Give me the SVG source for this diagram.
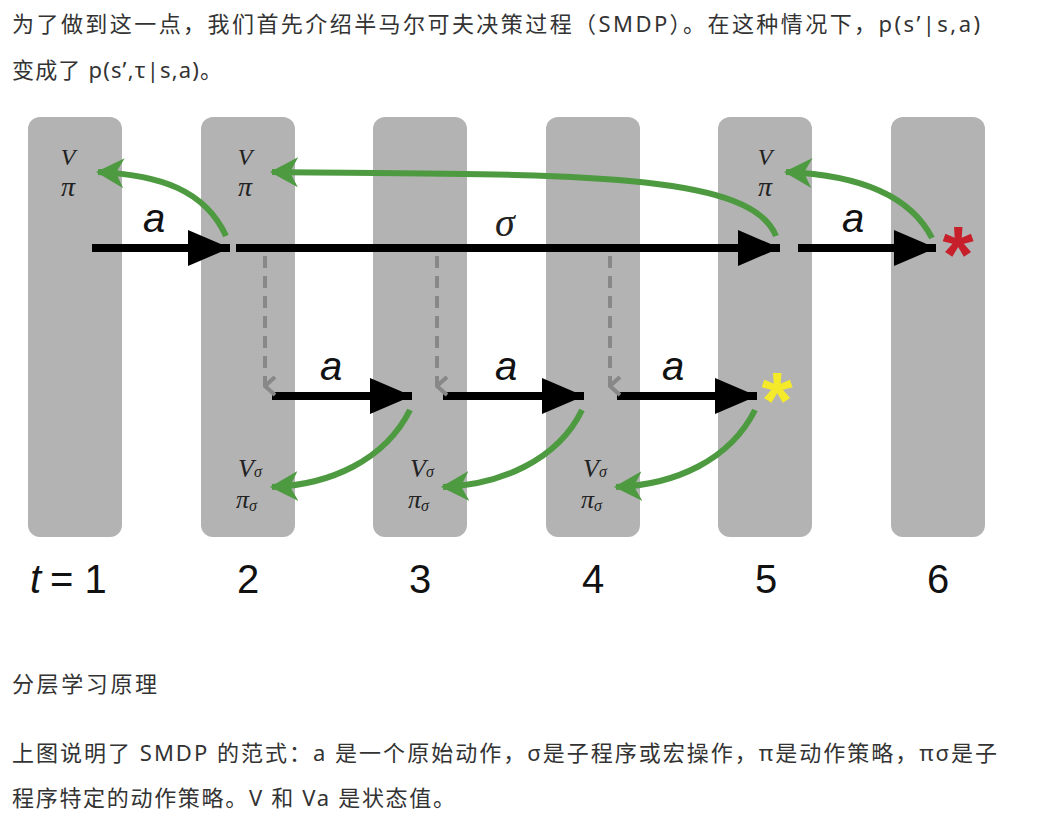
<svg xmlns="http://www.w3.org/2000/svg" width="1037" height="828" viewBox="0 0 1037 828">
<defs>
<style>
.col{fill:#b3b3b3}
.cn{font-family:"Noto Sans","Noto Sans CJK SC",sans-serif;font-size:22px;fill:#333}
.bk{stroke:#000;stroke-width:8;fill:none}
.gr{stroke:#4e9a41;stroke-width:6;fill:none}
.ds{stroke:#888;stroke-width:4;stroke-dasharray:12,8;fill:none}
.it{font-family:"Liberation Serif",serif;font-style:italic;fill:#222}
.ia{font-family:"Liberation Sans",sans-serif;font-style:italic;font-size:40px;fill:#111}
.num{font-family:"Liberation Sans",sans-serif;font-size:40px;fill:#111}
</style>
<marker id="ab" markerUnits="userSpaceOnUse" markerWidth="44" markerHeight="40" refX="42" refY="20" orient="auto"><path d="M0,2L42,20L0,38Z" fill="#000"/></marker>
<marker id="ag" markerUnits="userSpaceOnUse" markerWidth="30" markerHeight="30" refX="26" refY="15" orient="auto"><path d="M0,0L28,15L0,30L8,15Z" fill="#4e9a41"/></marker>
<marker id="ad" markerUnits="userSpaceOnUse" markerWidth="22" markerHeight="16" refX="11" refY="14" orient="auto"><path d="M2,4L11,14L20,4" stroke="#888" stroke-width="4" fill="none"/></marker>
</defs>
<rect width="1037" height="828" fill="#fff"/>
<text class="cn" x="12" y="32" textLength="968" lengthAdjust="spacing">为了做到这一点，我们首先介绍半马尔可夫决策过程（SMDP）。在这种情况下，p(s’|s,a)</text>
<text class="cn" x="12" y="78" textLength="210" lengthAdjust="spacing">变成了 p(s’,τ|s,a)。</text>
<g id="col1"><rect class="col" x="28" y="117" width="94" height="420" rx="12"/></g>
<g id="col2"><rect class="col" x="201" y="117" width="94" height="420" rx="12"/></g>
<g id="col3"><rect class="col" x="373" y="117" width="94" height="420" rx="12"/></g>
<g id="col4"><rect class="col" x="546" y="117" width="94" height="420" rx="12"/></g>
<g id="col5"><rect class="col" x="718" y="117" width="94" height="420" rx="12"/></g>
<g id="col6"><rect class="col" x="891" y="117" width="94" height="420" rx="12"/></g>
<g id="labels">
<text class="it" x="68" y="165" font-size="24" text-anchor="middle">V</text>
<text class="it" x="68" y="196" font-size="28" text-anchor="middle">π</text>
<text class="it" x="245" y="165" font-size="24" text-anchor="middle">V</text>
<text class="it" x="245" y="196" font-size="28" text-anchor="middle">π</text>
<text class="it" x="765" y="165" font-size="24" text-anchor="middle">V</text>
<text class="it" x="765" y="196" font-size="28" text-anchor="middle">π</text>
<text class="ia" x="143" y="232">a</text>
<text class="it" x="495" y="236" font-size="40">σ</text>
<text class="ia" x="842" y="232">a</text>
<text class="ia" x="320" y="380">a</text>
<text class="ia" x="495" y="380">a</text>
<text class="ia" x="662" y="380">a</text>
<g class="it" font-size="26">
<text x="238" y="477">V<tspan font-size="16">σ</tspan></text><text x="236" y="508">π<tspan font-size="16" dy="3">σ</tspan></text>
<text x="410" y="477">V<tspan font-size="16">σ</tspan></text><text x="408" y="508">π<tspan font-size="16" dy="3">σ</tspan></text>
<text x="583" y="477">V<tspan font-size="16">σ</tspan></text><text x="581" y="508">π<tspan font-size="16" dy="3">σ</tspan></text>
</g>
<text x="30" y="593" font-family="Liberation Sans,sans-serif" font-style="italic" font-size="40" fill="#111">t</text>
<text class="num" x="50" y="593">= 1</text>
<text class="num" x="248" y="593" text-anchor="middle">2</text>
<text class="num" x="420" y="593" text-anchor="middle">3</text>
<text class="num" x="593" y="593" text-anchor="middle">4</text>
<text class="num" x="766" y="593" text-anchor="middle">5</text>
<text class="num" x="938" y="593" text-anchor="middle">6</text>
<text x="958" y="282" font-family="Liberation Sans,sans-serif" font-size="80" font-weight="bold" fill="#c8202a" text-anchor="middle">*</text>
<text x="777" y="428" font-family="Liberation Sans,sans-serif" font-size="80" font-weight="bold" fill="#f5ea2a" text-anchor="middle">*</text>
</g>
<g id="connectors">
<line class="bk" x1="92" y1="248" x2="230" y2="248" marker-end="url(#ab)"/>
<line class="bk" x1="236" y1="248" x2="780" y2="248" marker-end="url(#ab)"/>
<line class="bk" x1="798" y1="248" x2="936" y2="248" marker-end="url(#ab)"/>
<line class="bk" x1="272" y1="396" x2="412" y2="396" marker-end="url(#ab)"/>
<line class="bk" x1="443" y1="396" x2="584" y2="396" marker-end="url(#ab)"/>
<line class="bk" x1="617" y1="396" x2="757" y2="396" marker-end="url(#ab)"/>
<line class="ds" x1="265" y1="256" x2="265" y2="386" marker-end="url(#ad)"/>
<line class="ds" x1="437" y1="256" x2="437" y2="386" marker-end="url(#ad)"/>
<line class="ds" x1="610" y1="256" x2="610" y2="386" marker-end="url(#ad)"/>
<path class="gr" d="M226,236 C205,190 160,175 98,172" marker-end="url(#ag)"/>
<path class="gr" d="M776,236 C750,170 560,175 272,172" marker-end="url(#ag)"/>
<path class="gr" d="M932,238 C910,195 860,175 786,172" marker-end="url(#ag)"/>
<path class="gr" d="M410,410 C385,460 330,485 272,487" marker-end="url(#ag)"/>
<path class="gr" d="M582,410 C558,460 500,485 443,487" marker-end="url(#ag)"/>
<path class="gr" d="M755,410 C730,460 675,485 616,487" marker-end="url(#ag)"/>
</g>
<text class="cn" x="12" y="692" textLength="145" lengthAdjust="spacing">分层学习原理</text>
<text class="cn" x="12" y="761" textLength="985" lengthAdjust="spacing">上图说明了 SMDP 的范式：a 是一个原始动作，σ是子程序或宏操作，π是动作策略，πσ是子</text>
<text class="cn" x="12" y="806" textLength="443" lengthAdjust="spacing">程序特定的动作策略。V 和 Va 是状态值。</text>
</svg>
